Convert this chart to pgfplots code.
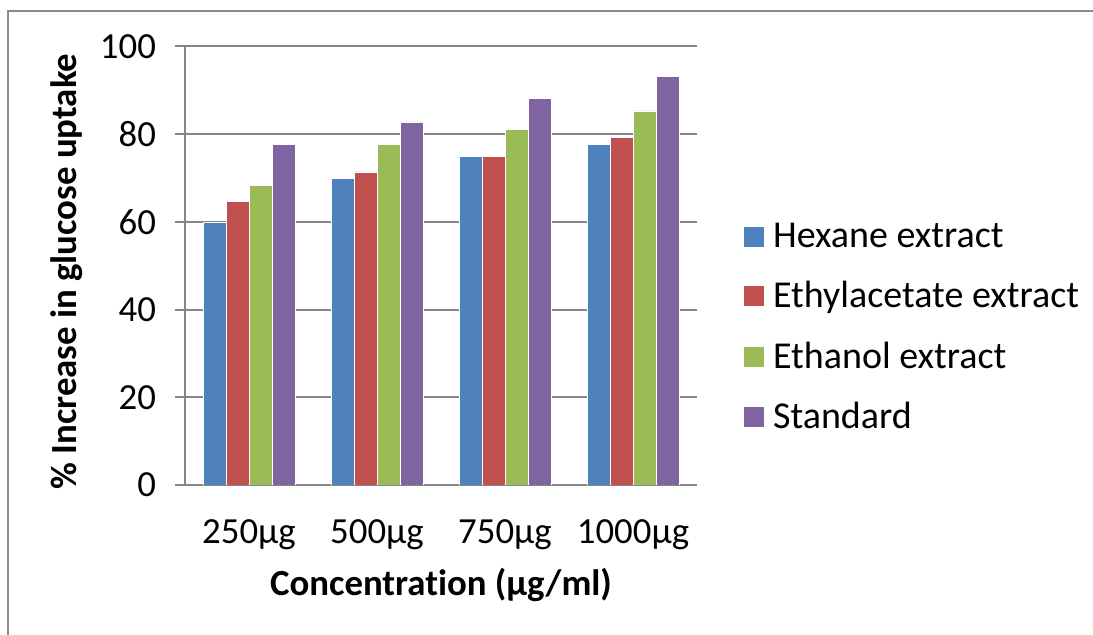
\documentclass[border=0pt]{standalone}
\usepackage{pgfplots}
\pgfplotsset{compat=1.18}
\usepackage{fontspec}
\setmainfont[Ligatures={NoCommon}]{Carlito}

\definecolor{hexblue}{HTML}{4F81BD}
\definecolor{ethred}{HTML}{C0504D}
\definecolor{ethgreen}{HTML}{9BBB59}
\definecolor{stdpurple}{HTML}{8064A2}
\definecolor{gridgray}{HTML}{868686}
\definecolor{framegray}{HTML}{8C8C8C}

\begin{document}
\begin{tikzpicture}
\useasboundingbox (0,0) rectangle (546.5pt,317.5pt);
% chart frame (left and top edges)
\draw[framegray, line width=1pt] (4pt,0) -- (4pt,312pt) -- (546.5pt,312pt);
\begin{axis}[
  at={(92.5pt,75pt)}, anchor=south west,
  scale only axis,
  width=256pt, height=219.25pt,
  ybar=0pt, bar width=11.5pt,
  xmin=-0.5, xmax=3.5,
  ymin=0, ymax=100,
  xtick=data,
  xticklabels={250µg,500µg,750µg,1000µg},
  ytick={0,20,40,60,80,100},
  axis x line*=bottom, axis y line*=left,
  axis line style={gridgray, line width=1pt, -},
  x axis line style={draw=none},
  ymajorgrids,
  grid style={gridgray, line width=1pt},
  major tick length=5pt,
  tick align=outside,
  xtick style={draw=none},
  ytick style={gridgray, line width=1pt},
  tick label style={font=\fontsize{18.4pt}{21pt}\selectfont, black},
  /pgf/number format/assume math mode=true,
  yticklabel style={xshift=-6pt},
  xticklabel style={yshift=-9pt},
  xlabel={\textbf{Concentrat\kern0pt ion (µg/ml)}},
  ylabel={\textbf{\% Increase in glucose uptake}},
  label style={font=\fontsize{18.4pt}{21pt}\selectfont},
  xlabel style={yshift=-2pt},
  ylabel style={yshift=2pt, xshift=-3pt},
  legend style={at={(1.09,0.36)}, anchor=west, draw=none, fill=none,
    font=\fontsize{19pt}{22pt}\selectfont, row sep=11.5pt,
    inner sep=0pt},
  legend cell align=left,
  legend image code/.code={\fill[#1] (0pt,-5.25pt) rectangle (10.5pt,5.25pt); \path (12.5pt,0pt);},
]
\addplot[fill=hexblue, draw=white, line width=0.3pt] coordinates {(0,60.0) (1,69.9) (2,75.0) (3,77.7)};
\addplot[fill=ethred, draw=white, line width=0.3pt] coordinates {(0,64.7) (1,71.4) (2,75.0) (3,79.2)};
\addplot[fill=ethgreen, draw=white, line width=0.3pt] coordinates {(0,68.4) (1,77.7) (2,81.1) (3,85.3)};
\addplot[fill=stdpurple, draw=white, line width=0.3pt] coordinates {(0,77.7) (1,82.8) (2,88.2) (3,93.2)};
\legend{Hexane extract, Ethylacetate extract, Ethanol extract, Standard}
\end{axis}
\end{tikzpicture}
\end{document}
